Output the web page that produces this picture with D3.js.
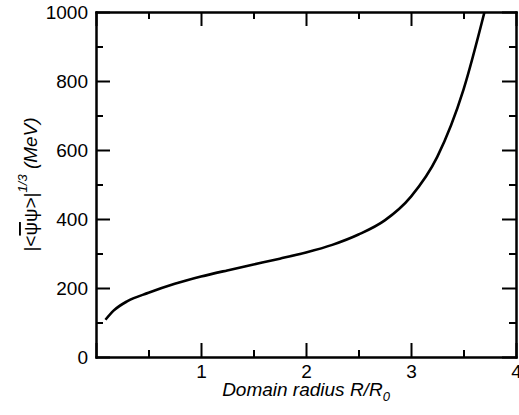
<!DOCTYPE html>
<html>
<head>
<meta charset="utf-8">
<script src="https://cdn.jsdelivr.net/npm/d3@7"></script>
<style>
  body { margin: 0; background: #fff; }
  text { font-family: "Liberation Sans", Arial, Helvetica, sans-serif; fill: #000; }
</style>
</head>
<body>
<div id="chart"></div>
<script>
// curve: domain radius R/R0 vs |<psibar psi>|^(1/3) in MeV
const radius = [0.09, 0.17, 0.3, 0.5, 0.75, 1.0, 1.25, 1.5, 1.75, 2.0, 2.25, 2.5, 2.75, 3.0, 3.25, 3.5, 3.7];
const condensate = [108, 135, 162, 186, 212, 233, 251, 268, 285, 303, 325, 355, 396, 465, 580, 775, 1000];

const xMajor = [0, 1, 2, 3, 4];
const xLabels = ["", "1", "2", "3", "4"];
const xMinor = [0.5, 1.5, 2.5, 3.5];
const yMajor = [0, 200, 400, 600, 800, 1000];
const yMinor = [100, 300, 500, 700, 900];

const margin = { top: 12, right: 3, bottom: 58, left: 96 },
    width = 519 - margin.left - margin.right,
    height = 415 - margin.top - margin.bottom;

const svg = d3.select("#chart")
    .append("svg")
    .attr("width", 519)
    .attr("height", 415)
    .append("g")
    .attr("transform", `translate(${margin.left},${margin.top})`);

const xScale = d3.scaleLinear().domain([0, 4]).range([0, width]);
const yScale = d3.scaleLinear().domain([0, 1000]).range([height, 0]);

const data = radius.map((r, i) => ({ r: r, v: condensate[i] }));

// curve, clipped to the frame
svg.append("clipPath").attr("id", "clip")
    .append("rect").attr("width", width).attr("height", height);

const line = d3.line()
    .x(d => xScale(d.r))
    .y(d => yScale(d.v))
    .curve(d3.curveMonotoneX);

svg.append("path")
    .datum(data)
    .attr("clip-path", "url(#clip)")
    .attr("fill", "none")
    .attr("stroke", "#000")
    .attr("stroke-width", 2.6)
    .attr("d", line);

// axes on all four sides, ticks pointing in
function styleAxis(g) {
    g.select(".domain").attr("stroke-width", 2);
    g.selectAll(".tick line").attr("stroke-width", 2);
}
const major = 14, minor = 7;

svg.append("g").attr("transform", `translate(0,${height})`)
    .call(d3.axisBottom(xScale).tickValues(xMajor).tickSizeInner(-major).tickSizeOuter(0)
        .tickFormat((d, i) => xLabels[i]).tickPadding(8))
    .call(styleAxis)
    .call(g => g.selectAll(".tick text").attr("font-size", 19));
svg.append("g").attr("transform", `translate(0,${height})`)
    .call(d3.axisBottom(xScale).tickValues(xMinor).tickSizeInner(-minor).tickSizeOuter(0).tickFormat(""))
    .call(styleAxis);

svg.append("g")
    .call(d3.axisTop(xScale).tickValues(xMajor).tickSizeInner(-major).tickSizeOuter(0).tickFormat(""))
    .call(styleAxis);
svg.append("g")
    .call(d3.axisTop(xScale).tickValues(xMinor).tickSizeInner(-minor).tickSizeOuter(0).tickFormat(""))
    .call(styleAxis);

svg.append("g")
    .call(d3.axisLeft(yScale).tickValues(yMajor).tickSizeInner(-major).tickSizeOuter(0)
        .tickFormat(d3.format("d")))
    .call(styleAxis)
    .call(g => g.selectAll(".tick text").attr("font-size", 19).attr("x", -8));
svg.append("g")
    .call(d3.axisLeft(yScale).tickValues(yMinor).tickSizeInner(-minor).tickSizeOuter(0).tickFormat(""))
    .call(styleAxis);

svg.append("g").attr("transform", `translate(${width},0)`)
    .call(d3.axisRight(yScale).tickValues(yMajor).tickSizeInner(-major).tickSizeOuter(0).tickFormat(""))
    .call(styleAxis);
svg.append("g").attr("transform", `translate(${width},0)`)
    .call(d3.axisRight(yScale).tickValues(yMinor).tickSizeInner(-minor).tickSizeOuter(0).tickFormat(""))
    .call(styleAxis);

svg.selectAll(".domain").attr("stroke-linecap", "square");

// x label
const xl = svg.append("text")
    .attr("x", width / 2)
    .attr("y", height + 39)
    .attr("text-anchor", "middle")
    .attr("font-size", 19)
    .attr("font-style", "italic");
xl.append("tspan").text("Domain radius R/R");
xl.append("tspan").attr("font-size", 13).attr("dy", 5).text("0");

// y label
const yl = svg.append("text")
    .attr("transform", `translate(${37 - margin.left},${height / 2}) rotate(-90)`)
    .attr("text-anchor", "middle")
    .attr("font-size", 19);
yl.append("tspan").text("|<");
yl.append("tspan").attr("text-decoration", "overline").text("\u03C8");
yl.append("tspan").text("\u03C8>|");
yl.append("tspan").attr("font-size", 13).attr("font-style", "italic").attr("dy", -10).text("1/3");
yl.append("tspan").attr("font-style", "italic").attr("dy", 10).text(" (MeV)");
</script>
</body>
</html>
